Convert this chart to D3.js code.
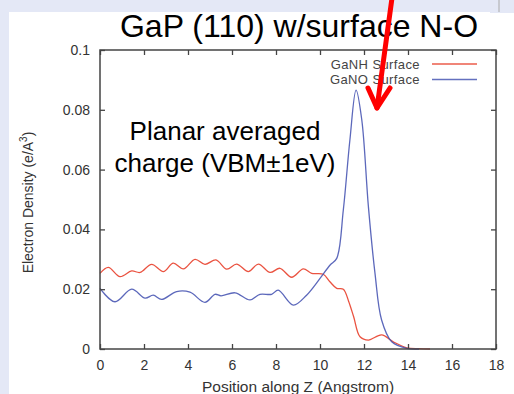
<!DOCTYPE html>
<html><head><meta charset="utf-8">
<script src="https://cdn.jsdelivr.net/npm/d3@7"></script>
<style>
html,body{margin:0;padding:0;background:#fff;}
svg{display:block;}
</style></head>
<body>
<svg id="c" width="514" height="394"></svg>
<script>
// ---- data ----
const title = "GaP (110) w/surface N-O";
const noteLines = ["Planar averaged", "charge (VBM\u00b11eV)"];
const seriesNames = ["GaNH Surface", "GaNO Surface"];
const xTicks = [0, 2, 4, 6, 8, 10, 12, 14, 16, 18];
const yTicks = [0, 0.02, 0.04, 0.06, 0.08, 0.1];
const yTickLabels = ["0", "0.02", "0.04", "0.06", "0.08", "0.1"];
const xLabel = "Position along Z (Angstrom)";
const yLabel = "Electron Density (e/A";

const ganhX = [0, 0.38, 0.91, 1.44, 1.82, 2.35, 2.88, 3.33, 3.79, 4.32, 4.77, 5.27, 5.76, 6.21, 6.74, 7.2, 7.73, 8.18, 8.71, 9.24, 9.62, 10.15, 10.45, 10.76, 11.06, 11.3, 11.53, 11.82, 12.2, 12.8, 13.33, 13.94, 14.5, 15.0];
const ganhY = [0.0253, 0.0273, 0.0242, 0.0261, 0.0256, 0.0283, 0.0259, 0.0287, 0.0268, 0.0300, 0.0283, 0.0298, 0.0267, 0.0284, 0.0259, 0.0284, 0.0256, 0.0270, 0.0240, 0.0268, 0.0253, 0.0250, 0.0225, 0.0203, 0.0200, 0.0160, 0.0108, 0.0041, 0.0030, 0.0047, 0.0024, 0.0004, 0.0001, 0.0];

const ganoX = [0, 0.68, 1.44, 2.05, 2.42, 2.8, 3.48, 4.09, 4.77, 5.23, 5.5, 6.14, 6.82, 7.27, 7.8, 8.1, 8.79, 9.39, 10.0, 10.45, 10.76, 11.06, 11.36, 11.64, 11.9, 12.2, 12.5, 12.8, 13.26, 13.94, 14.5];
const ganoY = [0.0203, 0.0158, 0.0200, 0.0170, 0.0180, 0.0166, 0.0192, 0.0190, 0.0156, 0.0183, 0.0178, 0.0188, 0.0164, 0.0183, 0.0183, 0.0197, 0.0147, 0.0180, 0.0236, 0.0280, 0.0303, 0.0465, 0.0700, 0.0866, 0.0766, 0.0476, 0.0253, 0.0097, 0.0024, 0.0002, 0.0];

const series = [
  {name: seriesNames[0], xs: ganhX, ys: ganhY, color: "#e8402c"},
  {name: seriesNames[1], xs: ganoX, ys: ganoY, color: "#4a58b4"}
];

// ---- layout ----
const svg = d3.select("#c");
const W = 514, H = 394;
const L = 100, R = 496, T = 50, B = 349;

// background
svg.append("rect").attr("width", W).attr("height", H).attr("fill", "#e4e8f6");
svg.append("rect").attr("x", 9).attr("y", 12).attr("width", W - 9).attr("height", H - 12).attr("fill", "#ffffff");
svg.append("rect").attr("x", 490).attr("y", 0).attr("width", 24).attr("height", 13).attr("fill", "#e4e8f6");
svg.append("line").attr("x1", 499).attr("x2", 499).attr("y1", 0).attr("y2", 12).attr("stroke", "#aaa").attr("stroke-width", 1);

const x = d3.scaleLinear().domain([0, 18]).range([L, R]);
const y = d3.scaleLinear().domain([0, 0.1]).range([B, T]);

const axisColor = "#444";
const tickFont = "Helvetica, Arial, 'Liberation Sans', sans-serif";

// lines
const line = d3.line().x(d => x(d[0])).y(d => y(d[1])).curve(d3.curveCatmullRom.alpha(0.5));
series.forEach(s => {
  const pts = s.xs.map((v, i) => [v, s.ys[i]]);
  svg.append("path").datum(pts).attr("d", line)
    .attr("fill", "none").attr("stroke", s.color).attr("stroke-width", 1.3).attr("opacity", 0.9);
});

// axes (ticks inward, mirrored)
const tickLen = 5;
const gB = svg.append("g").attr("transform", `translate(0,${B})`)
  .call(d3.axisBottom(x).tickValues(xTicks).tickSize(-tickLen).tickPadding(11).tickFormat(d3.format("d")));
const gT = svg.append("g").attr("transform", `translate(0,${T})`)
  .call(d3.axisTop(x).tickValues(xTicks).tickSize(-tickLen).tickFormat(""));
const gL = svg.append("g").attr("transform", `translate(${L},0)`)
  .call(d3.axisLeft(y).tickValues(yTicks).tickSize(-tickLen).tickPadding(10).tickFormat((d, i) => yTickLabels[i]));
const gR = svg.append("g").attr("transform", `translate(${R},0)`)
  .call(d3.axisRight(y).tickValues(yTicks).tickSize(-tickLen).tickFormat(""));
[gB, gT, gL, gR].forEach(g => {
  g.select(".domain").remove();
  g.selectAll(".tick line").attr("stroke", axisColor).attr("stroke-width", 1.3);
  g.selectAll("text").attr("fill", "#333").attr("font-family", tickFont).attr("font-size", 14);
});
// frame
svg.append("rect").attr("x", L).attr("y", T).attr("width", R - L).attr("height", B - T)
  .attr("fill", "none").attr("stroke", axisColor).attr("stroke-width", 1.5);

// axis labels
svg.append("text").attr("x", 298).attr("y", 392).attr("text-anchor", "middle")
  .attr("font-family", tickFont).attr("font-size", 15.5).attr("fill", "#333").text(xLabel);
const yl = svg.append("text").attr("transform", `translate(33,${(T + B) / 2 + 3}) rotate(-90)`)
  .attr("text-anchor", "middle").attr("font-family", tickFont).attr("font-size", 14).attr("fill", "#333");
yl.append("tspan").text(yLabel);
yl.append("tspan").attr("dy", -6).attr("font-size", 10).text("3");
yl.append("tspan").attr("dy", 6).text(")");

// legend
series.forEach((s, i) => {
  const ly = 64 + i * 15.5;
  svg.append("text").attr("x", 420).attr("y", ly + 4.5).attr("text-anchor", "end")
    .attr("font-family", tickFont).attr("font-size", 13).attr("letter-spacing", 0.4).attr("fill", "#444").text(s.name);
  svg.append("line").attr("x1", 432).attr("x2", 477).attr("y1", ly).attr("y2", ly)
    .attr("stroke", s.color).attr("stroke-width", 1.3).attr("opacity", 0.85);
});

// title
svg.append("text").attr("x", 299).attr("y", 37).attr("text-anchor", "middle")
  .attr("font-family", "Arial, 'Liberation Sans', sans-serif").attr("font-size", 32).attr("fill", "#000").text(title);

// annotation
noteLines.forEach((t, i) => {
  svg.append("text").attr("x", 225).attr("y", 140 + i * 32).attr("text-anchor", "middle")
    .attr("font-family", "Arial, 'Liberation Sans', sans-serif").attr("font-size", 26).attr("fill", "#000").text(t);
});

// red arrow
const arrow = svg.append("g").attr("stroke", "#ff0000").attr("stroke-width", 5).attr("stroke-linecap", "round").attr("fill", "none");
arrow.append("line").attr("x1", 392).attr("y1", -2).attr("x2", 377).attr("y2", 108);
arrow.append("polyline").attr("points", "368,88 377,108 390,88").attr("stroke-linejoin", "round");
</script>
</body></html>
